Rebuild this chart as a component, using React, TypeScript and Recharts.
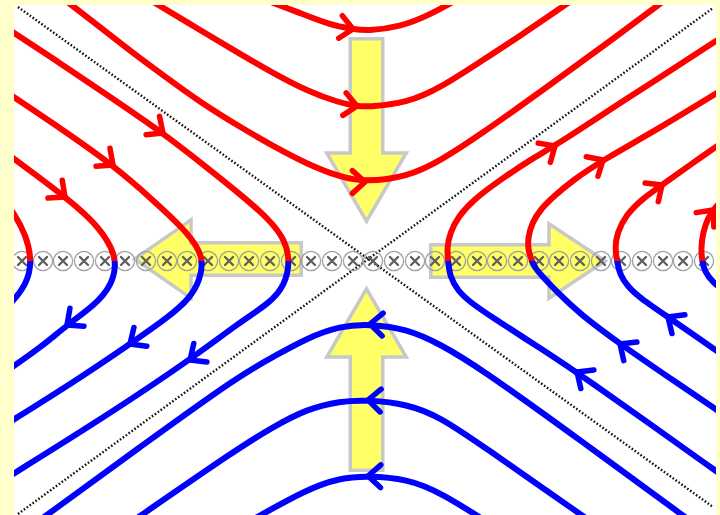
import React from "react";
import { ComposedChart, XAxis, YAxis, Line, Scatter, ReferenceArea } from "recharts";

// coordinates are centred on the X-point, y up; 3rd column = 1 marks a direction arrow
// field lines above the current sheet, flowing left -> right
const top1 = [[-112, 265], [-67, 248], [-37, 236], [-14, 232, 1], [0, 230], [33, 234], [63, 246], [98, 266]];
const top2 = [[-217, 261], [-167, 231], [-127, 207], [-94, 188], [-60, 170], [-27, 158], [-10, 155, 1], [0, 154], [40, 158], [73, 173], [113, 199], [153, 225], [198, 256], [210, 264]];
const top3 = [[-302, 261], [-267, 234], [-234, 208], [-200, 183], [-167, 159], [-127, 134], [-94, 115], [-60, 97], [-27, 84], [-2, 79, 1], [40, 84], [73, 100], [113, 126], [180, 174], [246, 222], [298, 261]];

// field lines below, flowing right -> left
const bottom1 = [[333, -267], [213, -179], [113, -107], [73, -83], [40, -68], [3, -63, 1], [-27, -65], [-60, -77], [-94, -96], [-127, -114], [-227, -186], [-327, -259]];
const bottom2 = [[223, -260], [113, -183], [73, -156], [40, -143], [1, -139, 1], [-27, -140], [-60, -148], [-94, -166], [-127, -186], [-237, -262]];
const bottom3 = [[128, -266], [73, -231], [40, -218], [1, -215, 1], [-27, -217], [-60, -228], [-122, -263]];

// reconnected lines on the left, top -> bottom
const left1 = [[-362, 234], [-307, 198], [-257, 164], [-204, 128, 1], [-157, 91], [-127, 67], [-97, 41], [-82, 21], [-77, 0], [-82, -24], [-97, -42], [-127, -61], [-177, -99, 1], [-267, -159], [-362, -218]];
const left2 = [[-362, 170], [-307, 133], [-254, 96, 1], [-214, 61], [-182, 31], [-169, 13], [-164, 0], [-167, -19], [-177, -37], [-197, -55], [-237, -83, 1], [-287, -117], [-362, -164]];
const left3 = [[-362, 109], [-327, 83], [-302, 64, 1], [-277, 43], [-259, 21], [-250, 0], [-255, -24], [-272, -44], [-300, -64, 1], [-327, -87], [-362, -111]];
const left4 = [[-367, 66], [-353, 48], [-341, 26], [-335, 0], [-340, -22], [-353, -39], [-367, -54]];

// reconnected lines on the right, bottom -> top
const right1 = [[363, -220], [210, -111, 1], [176, -89], [123, -55], [103, -41], [91, -30], [83, -16], [81, 0], [80, 14], [83, 28], [91, 44], [106, 61], [133, 81], [166, 103], [188, 115, 1], [253, 158], [363, 229]];
const right2 = [[363, -158], [313, -124], [253, -83, 1], [213, -53], [190, -31], [176, -16], [168, -7], [165, 0], [161, 11], [161, 24], [165, 38], [173, 51], [186, 64], [206, 81], [236, 101, 1], [293, 133], [363, 176]];
const right3 = [[363, -99], [301, -56, 1], [273, -37], [261, -26], [253, -14], [250, 0], [248, 13], [250, 28], [259, 46], [275, 62], [295, 76, 1], [323, 96], [363, 124]];
const right4 = [[363, -34], [345, -21], [338, -11], [335, 0], [334, 13], [336, 29], [341, 43], [346, 51, 1], [363, 70]];

// separatrices
const sepA = [[-349, 254], [346, -246]];
const sepB = [[-349, -253], [346, 253]];

// current sheet (currents into the page)
const sheetX = [-345, -324, -304, -283, -262, -242, -221, -200, -180, -159, -138, -118, -97, -76, -56, -35, -14, 6, 27, 48, 68, 89, 110, 130, 151, 172, 192, 213, 234, 254, 275, 296, 316, 337];

// inflow / outflow arrows
const inflowTop = { x1: -42, x2: 41, y1: 38, y2: 224 };
const inflowBottom = { x1: -42, x2: 41, y1: -211, y2: -26 };
const outflowLeft = { x1: -234, x2: -64, y1: -39, y2: 43 };
const outflowRight = { x1: 62, x2: 240, y1: -39, y2: 39 };

type Pt = { x: number; y: number; arrow: boolean };
const pts = (a: number[][]): Pt[] => a.map(([x, y, m]) => ({ x, y, arrow: m === 1 }));

const W = 720;
const H = 515;
const M = { top: 5, right: 4, bottom: 0, left: 14 };
const PW = W - M.left - M.right;
const PH = H - M.top - M.bottom;
const X_DOMAIN: [number, number] = [-353, 349];
const Y_DOMAIN: [number, number] = [-254, 256];
const KX = PW / (X_DOMAIN[1] - X_DOMAIN[0]);
const KY = PH / (Y_DOMAIN[1] - Y_DOMAIN[0]);
const SPLIT = Y_DOMAIN[1] / (Y_DOMAIN[1] - Y_DOMAIN[0]);

const RED = "#ff0000";
const BLUE = "#0000ff";
const YELLOW = "#ffff66";
const BORDER = "#c8c8c8";

function chevrons(line: Pt[], color: (p: Pt) => string) {
  return (props: any) => {
    const { cx, cy, index } = props;
    const p = line[index];
    if (!p || !p.arrow || cx == null || cy == null) return <g key={`n${index}`} />;
    const a = line[Math.max(0, index - 1)];
    const b = line[Math.min(line.length - 1, index + 1)];
    let dx = (b.x - a.x) * KX;
    let dy = -(b.y - a.y) * KY;
    const len = Math.hypot(dx, dy) || 1;
    dx /= len;
    dy /= len;
    const bx = -dx, by = -dy;
    const ang = (42 * Math.PI) / 180;
    const L = 17;
    const r = (t: number) => [bx * Math.cos(t) - by * Math.sin(t), bx * Math.sin(t) + by * Math.cos(t)];
    const [ax, ay] = r(ang);
    const [ex, ey] = r(-ang);
    return (
      <path
        key={`a${index}`}
        d={`M${cx + ax * L},${cy + ay * L}L${cx},${cy}L${cx + ex * L},${cy + ey * L}`}
        stroke={color(p)}
        strokeWidth={5.5}
        strokeLinecap="round"
        strokeLinejoin="round"
        fill="none"
      />
    );
  };
}

function flowArrow(dir: "up" | "down" | "left" | "right", headLen: number) {
  return (r: any) => {
    const { x, y, width, height } = r;
    const vertical = dir === "up" || dir === "down";
    const len = vertical ? height : width;
    const half = (vertical ? width : height) / 2;
    const cx = x + width / 2;
    const cy = y + height / 2;
    const inset = 1.75;
    const s = 18 - inset;
    const hw = half - inset;
    const a = inset;
    const b = len - inset;
    const hb = len - headLen;
    const local = [[a, -s], [hb, -s], [hb, -hw], [b, 0], [hb, hw], [hb, s], [a, s]];
    const map = ([u, v]: number[]) => {
      if (dir === "down") return [cx + v, y + u];
      if (dir === "up") return [cx + v, y + height - u];
      if (dir === "right") return [x + u, cy + v];
      return [x + width - u, cy + v];
    };
    const d = local.map(map).map(([px, py]) => `${px},${py}`).join(" ");
    return <polygon points={d} fill={YELLOW} stroke={BORDER} strokeWidth={3.5} />;
  };
}

const CurrentMark = (props: any) => {
  const { cx, cy } = props;
  return (
    <g>
      <circle cx={cx} cy={cy} r={9.6} fill="none" stroke="#a0a0a0" strokeWidth={1.3} />
      <path
        d={`M${cx - 4},${cy - 4}L${cx + 4},${cy + 4}M${cx - 4},${cy + 4}L${cx + 4},${cy - 4}`}
        stroke="#606060"
        strokeWidth={2.4}
        strokeLinecap="round"
      />
    </g>
  );
};

const topLines = [top1, top2, top3].map(pts);
const bottomLines = [bottom1, bottom2, bottom3].map(pts);
const sideLines = [left1, left2, left3, left4, right1, right2, right3, right4].map(pts);
const separatrices = [sepA, sepB].map(pts);
const sheet = sheetX.map((x) => ({ x, y: 0 }));

export default function App() {
  return (
    <div style={{ position: "absolute", left: 0, top: 0, width: W, height: H, background: "#ffffcc", overflow: "hidden" }}>
      <ComposedChart width={W} height={H} margin={M}>
        <defs>
          <linearGradient id="splitRB" gradientUnits="userSpaceOnUse" x1="0" y1={M.top} x2="0" y2={M.top + PH}>
            <stop offset="0" stopColor={RED} />
            <stop offset={SPLIT} stopColor={RED} />
            <stop offset={SPLIT} stopColor={BLUE} />
            <stop offset="1" stopColor={BLUE} />
          </linearGradient>
        </defs>
        <XAxis type="number" dataKey="x" domain={X_DOMAIN} allowDataOverflow hide />
        <YAxis type="number" dataKey="y" domain={Y_DOMAIN} allowDataOverflow hide />
        <ReferenceArea x1={X_DOMAIN[0]} x2={X_DOMAIN[1]} y1={Y_DOMAIN[0]} y2={Y_DOMAIN[1]} fill="#ffffff" fillOpacity={1} stroke="none" zIndex={-300} />
        <ReferenceArea {...inflowTop} shape={flowArrow("down", 70)} zIndex={-200} />
        <ReferenceArea {...inflowBottom} shape={flowArrow("up", 70)} zIndex={-200} />
        <ReferenceArea {...outflowLeft} shape={flowArrow("left", 58)} zIndex={-200} />
        <ReferenceArea {...outflowRight} shape={flowArrow("right", 58)} zIndex={-200} />
        {separatrices.map((l, i) => (
          <Line key={`s${i}`} data={l} dataKey="y" type="linear" stroke="#111" strokeWidth={2.4} strokeDasharray="1.6 2" dot={false} activeDot={false} isAnimationActive={false} zIndex={350} />
        ))}
        <Scatter data={sheet} dataKey="y" shape={CurrentMark} isAnimationActive={false} zIndex={380} />
        {topLines.map((l, i) => (
          <Line key={`t${i}`} data={l} dataKey="y" type="basis" stroke={RED} strokeWidth={6} dot={chevrons(l, () => RED)} activeDot={false} isAnimationActive={false} zIndex={400} />
        ))}
        {bottomLines.map((l, i) => (
          <Line key={`b${i}`} data={l} dataKey="y" type="basis" stroke={BLUE} strokeWidth={6} dot={chevrons(l, () => BLUE)} activeDot={false} isAnimationActive={false} zIndex={400} />
        ))}
        {sideLines.map((l, i) => (
          <Line key={`r${i}`} data={l} dataKey="y" type="basis" stroke="url(#splitRB)" strokeWidth={6} dot={chevrons(l, (p) => (p.y >= 0 ? RED : BLUE))} activeDot={false} isAnimationActive={false} zIndex={400} />
        ))}
      </ComposedChart>
    </div>
  );
}
